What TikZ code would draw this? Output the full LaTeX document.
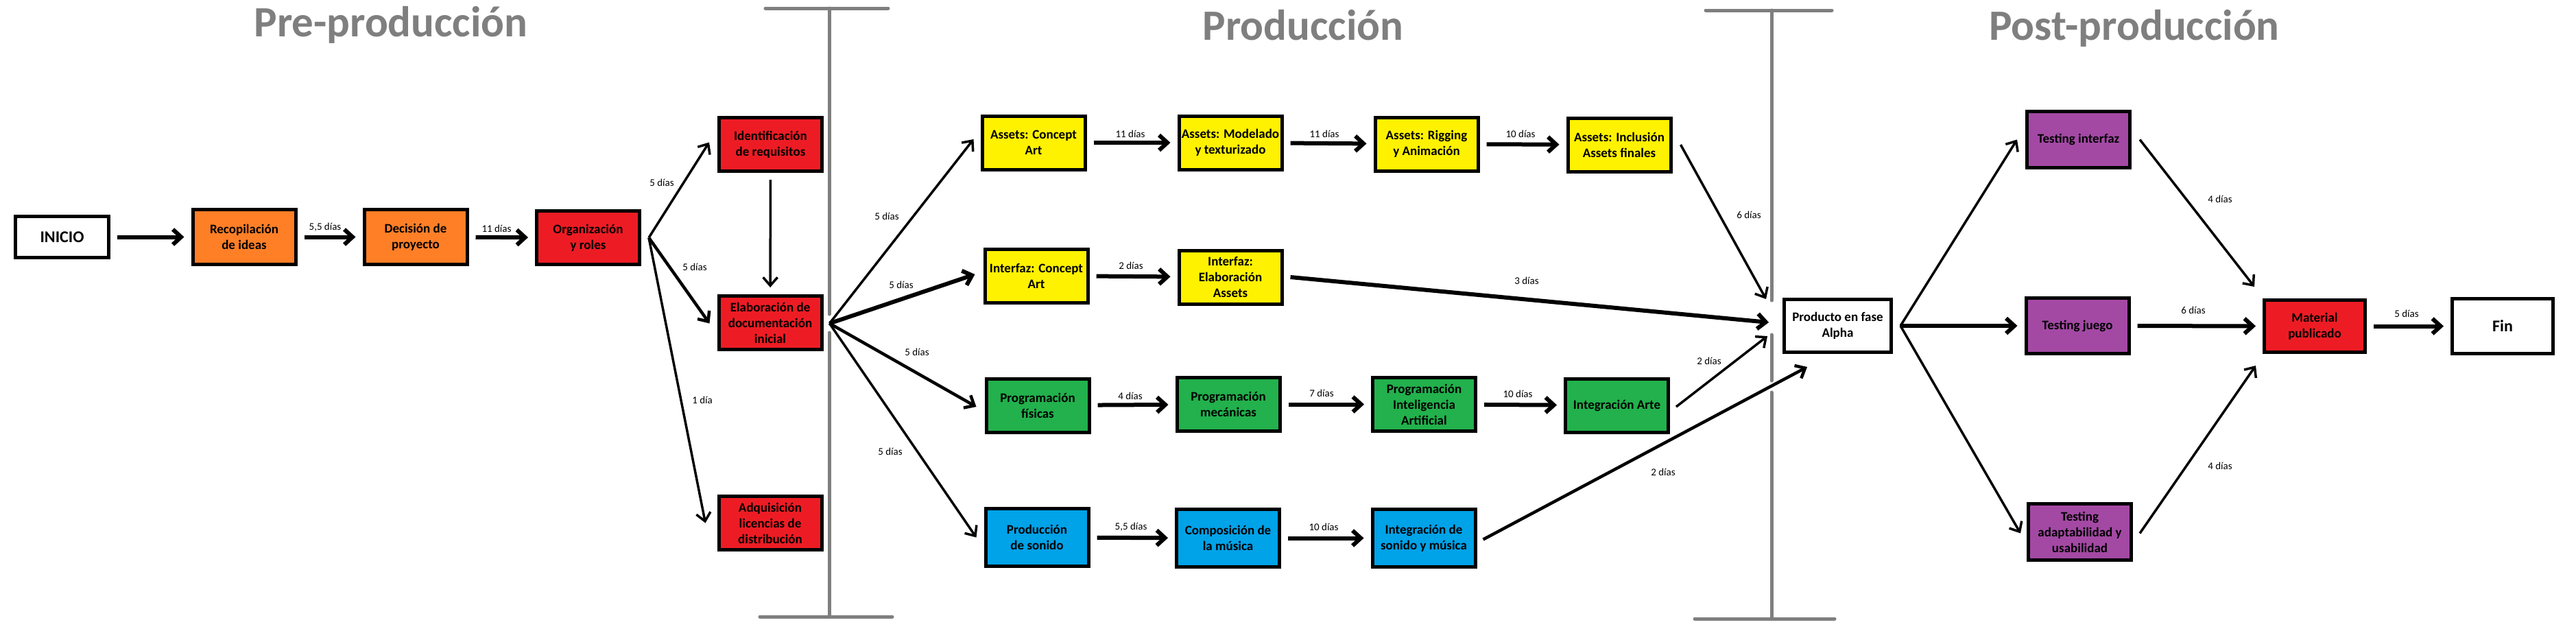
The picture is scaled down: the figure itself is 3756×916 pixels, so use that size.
\documentclass[tikz,border=0pt]{standalone}
\usepackage{fontspec}
\setmainfont{Carlito}
\usetikzlibrary{arrows.meta,calc}
\definecolor{orng}{HTML}{FF7F27}
\definecolor{redc}{HTML}{ED1C24}
\definecolor{yelc}{HTML}{FFF200}
\definecolor{grnc}{HTML}{22B14C}
\definecolor{bluc}{HTML}{00A2E8}
\definecolor{purc}{HTML}{A349A4}
\definecolor{grayc}{HTML}{7F7F7F}
\begin{document}
\begin{tikzpicture}[x=1pt,y=-1pt,
  box/.style={draw=black, line width=5pt, inner sep=0pt, minimum width=150pt, minimum height=78pt, align=center, font=\fontsize{19}{23}\selectfont\bfseries},
  bigbox/.style={box, font=\fontsize{24}{28}\selectfont\bfseries},
  arr/.style={line width=6pt, -{Straight Barb[length=12pt,width=22pt]}},
  arrt/.style={line width=3.5pt, -{Straight Barb[length=12pt,width=21pt]}},
  arrm/.style={line width=4.5pt, -{Straight Barb[length=12pt,width=21pt]}},
  lbl/.style={font=\fontsize{15}{17}\selectfont, inner sep=0pt},
  ttl/.style={text=grayc, font=\fontsize{63}{70}\selectfont\bfseries, inner sep=0pt, anchor=base},
  bar/.style={draw=grayc, line width=5pt, line cap=round},
  sh/.style={shorten <=10pt, shorten >=10pt}
]
\useasboundingbox (0,0) rectangle (3756,916);
\fill[white] (0,0) rectangle (3756,916);

% titles
\node[ttl] (t1) at (570,53) {Pre-producción};
\node[ttl] (t2) at (1900,58) {Producción};
\node[ttl] (t3) at (3112,58) {Post-producción};

% phase bars
\draw[bar] (1116,12) -- (1295,12);
\draw[bar] (1108,899) -- (1301,899);
\draw[bar] (1209,12) -- (1209,458);
\draw[bar] (1209,485) -- (1209,899);
\draw[bar] (2487,15) -- (2671,15);
\draw[bar] (2471,902) -- (2675,902);
\draw[bar] (2583,15) -- (2583,438);
\draw[bar] (2583,488) -- (2583,555);
\draw[bar] (2583,572) -- (2583,902);

% nodes
\node[bigbox, fill=white, minimum width=136pt, minimum height=60pt] (inicio) at (90.5,345.5) {INICIO};
\node[box, fill=orng, minimum height=80pt] (recop) at (356,345.5) {Recopilación\\de ideas};
\node[box, fill=orng, minimum height=80pt] (decision) at (606,345.5) {Decisión de\\proyecto};
\node[box, fill=redc] (org) at (857.5,346.5) {Organización\\y roles};
\node[box, fill=redc] (ident) at (1123.5,210.5) {Identificación\\de requisitos};
\node[box, fill=redc] (elab) at (1123,470.5) {Elaboración de\\documentación\\inicial};
\node[box, fill=redc] (adq) at (1123,762.5) {Adquisición\\licencias de\\distribución};

\node[box, fill=yelc] (aca) at (1507,208) {Assets: Concept\\Art};
\node[box, fill=yelc] (amod) at (1794,208) {Assets: Modelado\\y texturizado};
\node[box, fill=yelc] (arig) at (2080,210) {Assets: Rigging\\y Animación};
\node[box, fill=yelc] (ainc) at (2361,211) {Assets: Inclusión\\Assets finales};
\node[box, fill=yelc] (ica) at (1511,402) {Interfaz: Concept\\Art};
\node[box, fill=yelc] (iela) at (1794,404) {Interfaz:\\Elaboración\\Assets};
\node[box, fill=grnc] (pfis) at (1513,591) {Programación\\físicas};
\node[box, fill=grnc] (pmec) at (1791,589.5) {Programación\\mecánicas};
\node[box, fill=grnc] (pia) at (2076.5,589.5) {Programación\\Inteligencia\\Artificial};
\node[box, fill=grnc] (iarte) at (2357.5,591) {Integración Arte};
\node[box, fill=bluc, minimum height=84pt] (psonido) at (1512,783.5) {Producción\\de sonido};
\node[box, fill=bluc, minimum height=84pt] (comp) at (1790.5,784.5) {Composición de\\la música};
\node[box, fill=bluc, minimum height=84pt] (isonido) at (2076,784.5) {Integración de\\sonido y música};

\node[box, fill=white, minimum width=156pt, minimum height=77pt] (alpha) at (2679.5,475) {Producto en fase\\Alpha};
\node[box, fill=purc, minimum height=82pt] (ti) at (3030.5,203.5) {Testing interfaz};
\node[box, fill=purc, minimum height=81pt] (tj) at (3029,475) {Testing juego};
\node[box, fill=purc, minimum height=82pt] (ta) at (3032.5,775.5) {Testing\\adaptabilidad y\\usabilidad};
\node[box, fill=redc, minimum width=147pt, minimum height=76pt] (material) at (3375,475.5) {Material\\publicado};
\node[bigbox, fill=white, minimum width=147pt, minimum height=80pt] (fin) at (3649,475.5) {Fin};

% fan points
\coordinate (orgout) at ($(org.east)+(11,0)$);
\coordinate (elabout) at ($(elab.east)+(9,1)$);
\coordinate (alphaout) at ($(alpha.east)+(11,0)$);

% pre-production connectors
\draw[arr, sh] (inicio) -- (recop);
\draw[arr, sh] (recop) -- (decision);
\draw[arr, sh] (decision) -- (org);
\draw[arrt] (orgout) -- ($(ident.west)+(-12,-3)$);
\draw[arrm] (orgout) -- ($(elab.west)+(-11,1)$);
\draw[arrt] (orgout) -- ($(adq.west)+(-17,0)$);
\draw[arrt, sh] (ident) -- (elab);

% production connectors
\draw[arrt] (elabout) -- ($(aca.west)+(-10,-5)$);
\draw[arr] (elabout) -- ($(ica.west)+(-12,-2)$);
\draw[arrm] (elabout) -- ($(pfis.west)+(-12,2)$);
\draw[arrt] (elabout) -- ($(psonido.west)+(-11,0)$);
\draw[arr, sh] (aca) -- (amod);
\draw[arr, sh] (amod) -- (arig);
\draw[arr, sh] (arig) -- (ainc);
\draw[arr, sh] (ica) -- (iela);
\draw[arr, sh] (pfis) -- (pmec);
\draw[arr, sh] (pmec) -- (pia);
\draw[arr, sh] (pia) -- (iarte);
\draw[arr, sh] (psonido) -- (comp);
\draw[arr, sh] (comp) -- (isonido);
\draw[arrt] ($(ainc.east)+(12,0)$) -- ($(alpha.north west)+(-24,2)$);
\draw[arr] ($(iela.east)+(10,0)$) -- ($(alpha.west)+(-20,-5)$);
\draw[arrt] ($(iarte.east)+(9,2)$) -- ($(alpha.south west)+(-22,-26)$);
\draw[arrm] ($(isonido.east)+(9,2)$) -- ($(alpha.south west)+(36,19)$);

% post-production connectors
\draw[arrt] (alphaout) -- ($(ti.west)+(-12,0)$);
\draw[arr] (alphaout) -- ($(tj.west)+(-10,0)$);
\draw[arrt] (alphaout) -- ($(ta.west)+(-9,2)$);
\draw[arrt] ($(ti.east)+(12,0)$) -- ($(material.north west)+(-12,-17)$);
\draw[arr, sh] (tj) -- (material);
\draw[arrt] ($(ta.east)+(10,2)$) -- ($(material.south west)+(-10,17)$);
\draw[arr, sh] (material) -- (fin);

% labels
\node[lbl] (l1) at (474,331) {5,5 días};
\node[lbl] (l2) at (724,333) {11 días};
\node[lbl] (l3) at (965,266) {5 días};
\node[lbl] (l4) at (1013,389) {5 días};
\node[lbl] (l5) at (1024,583) {1 día};
\node[lbl] (l6) at (1293,315) {5 días};
\node[lbl] (l7) at (1314,415) {5 días};
\node[lbl] (l8) at (1337,513) {5 días};
\node[lbl] (l9) at (1298,658) {5 días};
\node[lbl] (l10) at (1648,195) {11 días};
\node[lbl] (l11) at (1931,195) {11 días};
\node[lbl] (l12) at (2217,195) {10 días};
\node[lbl] (l13) at (2550,313) {6 días};
\node[lbl] (l14) at (1649,387) {2 días};
\node[lbl] (l15) at (2226,409) {3 días};
\node[lbl] (l16) at (1648,577) {4 días};
\node[lbl] (l17) at (1927,573) {7 días};
\node[lbl] (l18) at (2213,574) {10 días};
\node[lbl] (l19) at (2492,526) {2 días};
\node[lbl] (l20) at (1649,768) {5,5 días};
\node[lbl] (l21) at (1930,768) {10 días};
\node[lbl] (l22) at (2425,688) {2 días};
\node[lbl] (l23) at (3237,290) {4 días};
\node[lbl] (l24) at (3198,452) {6 días};
\node[lbl] (l25) at (3237,679) {4 días};
\node[lbl] (l26) at (3509,457) {5 días};
\end{tikzpicture}
\end{document}
